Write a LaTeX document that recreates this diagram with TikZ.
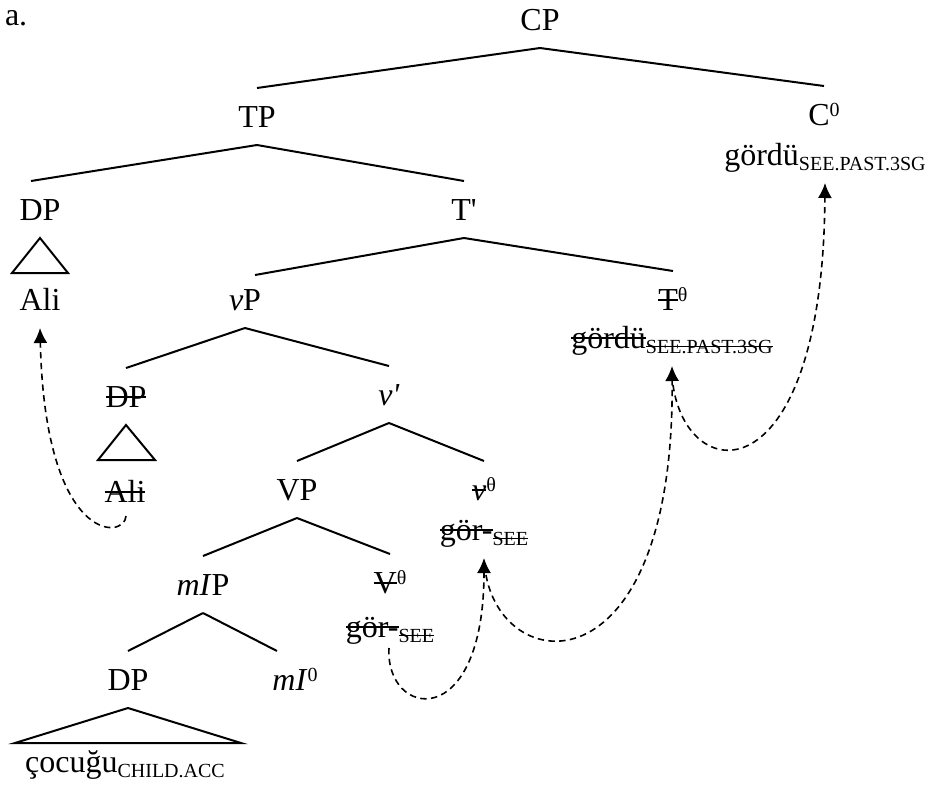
\documentclass[tikz,border=0pt]{standalone}
\usepackage{fontspec}
\setmainfont{Liberation Serif}
\usetikzlibrary{arrows.meta,calc}

% struck-through text: a rule across the box at about mid x-height
\newcommand{\strk}[1]{\setbox0=\hbox{#1}\rlap{\rule[0.29em]{\wd0}{0.055em}}\box0}
% gloss subscript and small superscript
\newcommand{\gl}[1]{\raisebox{-2.5pt}{\fontsize{10}{12}\selectfont #1}}
\newcommand{\up}[1]{\raisebox{4.5pt}{\fontsize{10}{12}\selectfont #1}}

\tikzset{
  lbl/.style={anchor=base, inner sep=0pt, outer sep=9pt, text height=10.5pt,
    text depth=0pt, font=\fontsize{16}{19}\selectfont},
  tag/.style={anchor=base west, inner sep=0pt, outer sep=0pt,
    font=\fontsize{16}{19}\selectfont},
  branch/.style={line width=1pt},
  roof/.style={line width=1pt, line join=miter},
  mv/.style={line width=0.8pt, dash pattern=on 3.2pt off 2.2pt,
    -{Latex[length=7.5pt,width=7pt]}}
}

\begin{document}
\begin{tikzpicture}[x=0.5pt,y=-0.5pt]
\fill[white] (0,0) rectangle (934,799);
\path[use as bounding box] (0,0) rectangle (934,799);

% labels
\node[tag] (lab) at (5,25) {a.};
\node[lbl] (CP) at (540,30) {CP};
\node[lbl] (TP) at (257,127) {TP};
\node[lbl] (C0) at (824,125) {C\up{0}};
\node[lbl] (gC) at (825,165) {gördü\gl{SEE.PAST.3SG}};
\node[lbl] (DP1) at (40,220) {DP};
\node[lbl] (Tb) at (464,220) {T\textquotesingle};
\node[lbl] (Ali1) at (40,310) {Ali};
\node[lbl] (vP) at (245,310) {\textit{v}P};
\node[lbl] (T0) at (673,310) {\strk{T}\up{θ}};
\node[lbl] (gT) at (672,348) {\strk{gördü}\gl{\strk{SEE.PAST.3SG}}};
\node[lbl] (DP2) at (126,407) {\strk{DP}};
\node[lbl] (vb) at (389,405) {\textit{v\textquotesingle}};
\node[lbl] (Ali2) at (125,502) {\strk{Ali}};
\node[lbl] (VP) at (297,500) {VP};
\node[lbl] (v0) at (484,500) {\strk{\textit{v}}\up{θ}};
\node[lbl] (gv) at (484,540) {\strk{gör-}\gl{\strk{SEE}}};
\node[lbl] (mIP) at (203,595) {\textit{mI}P};
\node[lbl] (V0) at (390,593) {\strk{V}\up{θ}};
\node[lbl] (gV) at (390,637) {\strk{gör-}\gl{\strk{SEE}}};
\node[lbl] (DP3) at (128,690) {DP};
\node[lbl] (mI0) at (295,690) {\textit{mI}\up{0}};
\node[lbl] (coc) at (125,772) {çocuğu\gl{CHILD.ACC}};

% branches
\draw[branch] (CP.south) -- (TP.north);
\draw[branch] (CP.south) -- (C0.north);
\draw[branch] (TP.south) -- ($(DP1.north)+(-9,0)$);
\draw[branch] (TP.south) -- (Tb.north);
\draw[branch] (Tb.south) -- ($(vP.north)+(10,4)$);
\draw[branch] (Tb.south) -- (T0.north);
\draw[branch] (vP.south) -- (DP2.north);
\draw[branch] (vP.south) -- (vb.north);
\draw[branch] (vb.south) -- (VP.north);
\draw[branch] (vb.south) -- (v0.north);
\draw[branch] (VP.south) -- (mIP.north);
\draw[branch] (VP.south) -- (V0.north);
\draw[branch] (mIP.south) -- (DP3.north);
\draw[branch] (mIP.south) -- ($(mI0.north)+(-18,0)$);

% roofs
\draw[roof] (DP1.south) -- ++(-28,35) -- ++(56,0) -- cycle;
\draw[roof] (DP2.south) -- ++(-28,35) -- ++(57,0) -- cycle;
\draw[roof] (DP3.south) -- ++(-113,35) -- ++(226,0) -- cycle;

% movement arrows
\draw[mv] ($(Ali2.south)+(1,-4)$) .. controls +(-1,24) and +(5,217) .. (Ali1.south);
\draw[mv] ($(gV.south)+(-1,-7)$) .. controls +(-4,70) and +(0,177) .. (gv.south);
\draw[mv] ($(gv.south)+(2,17)$) .. controls +(19,105) and +(3,324) .. (gT.south);
\draw[mv] ($(gT.south)+(1,19)$) .. controls +(15,105) and +(-2,312) .. (gC.south);
\end{tikzpicture}
\end{document}
